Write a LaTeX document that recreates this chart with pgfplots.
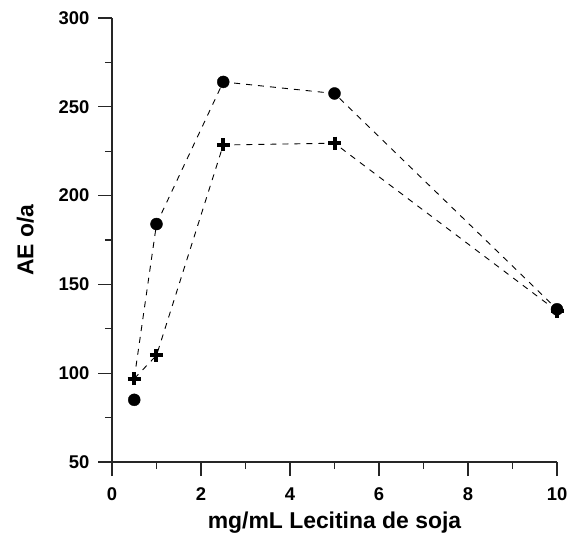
\documentclass[border=0pt]{standalone}
\usepackage{fontspec}
\setmainfont{Liberation Sans}
\usepackage{pgfplots}
\pgfplotsset{compat=1.18}

\begin{document}
\begin{tikzpicture}
\begin{axis}[
  scale only axis,
  width=445bp, height=444bp,
  xmin=0, xmax=10, ymin=50, ymax=300,
  axis x line*=bottom, axis y line*=left,
  axis line style={line width=1.3bp, black!85},
  xtick={0,2,...,10}, ytick={50,100,...,300},
  minor x tick num=1, minor y tick num=1,
  tick align=outside,
  major tick length=14bp, minor tick length=7bp,
  tick style={line width=1.3bp, black!85},
  /pgf/number format/assume math mode=true,
  ticklabel style={font=\fontsize{18.5}{20}\selectfont\bfseries},
  xticklabel style={yshift=-8bp},
  yticklabel style={xshift=-5bp},
  xlabel={mg/mL Lecitina de soja},
  ylabel={AE o/a},
  label style={font=\fontsize{23}{26}\selectfont\bfseries},
  xlabel style={yshift=-4bp},
  ylabel style={yshift=18bp},
  clip=false,
]
% connecting dashed trace for the circle series
\addplot[black, line width=0.9bp, dash pattern=on 6bp off 6bp] coordinates {
  (0.5,97) (1,184) (2.5,264) (5,257.5) (10,136)
};
% circle series markers
\addplot[only marks, mark=*, mark size=6bp, mark options={fill=black, draw=black}] coordinates {
  (0.5,85) (1,184) (2.5,264) (5,257.5) (10,136)
};
% cross series: dashed trace, then heavy plus markers
\addplot[black, line width=0.9bp, dash pattern=on 6bp off 6bp] coordinates {
  (0.5,97) (1,110) (2.5,228.5) (5,229.5) (10,135)
};
\addplot[only marks, mark=+, mark size=6.5bp, mark options={line width=4bp}] coordinates {
  (0.5,97) (1,110) (2.5,228.5) (5,229.5) (10,135)
};
\coordinate (SW) at (rel axis cs:0,0);
\coordinate (NE) at (rel axis cs:1,1);
\end{axis}
\pgfresetboundingbox
\path[use as bounding box] ([shift={(-112bp,-76bp)}]SW) rectangle ([shift={(14bp,18bp)}]NE);
\end{tikzpicture}
\end{document}
